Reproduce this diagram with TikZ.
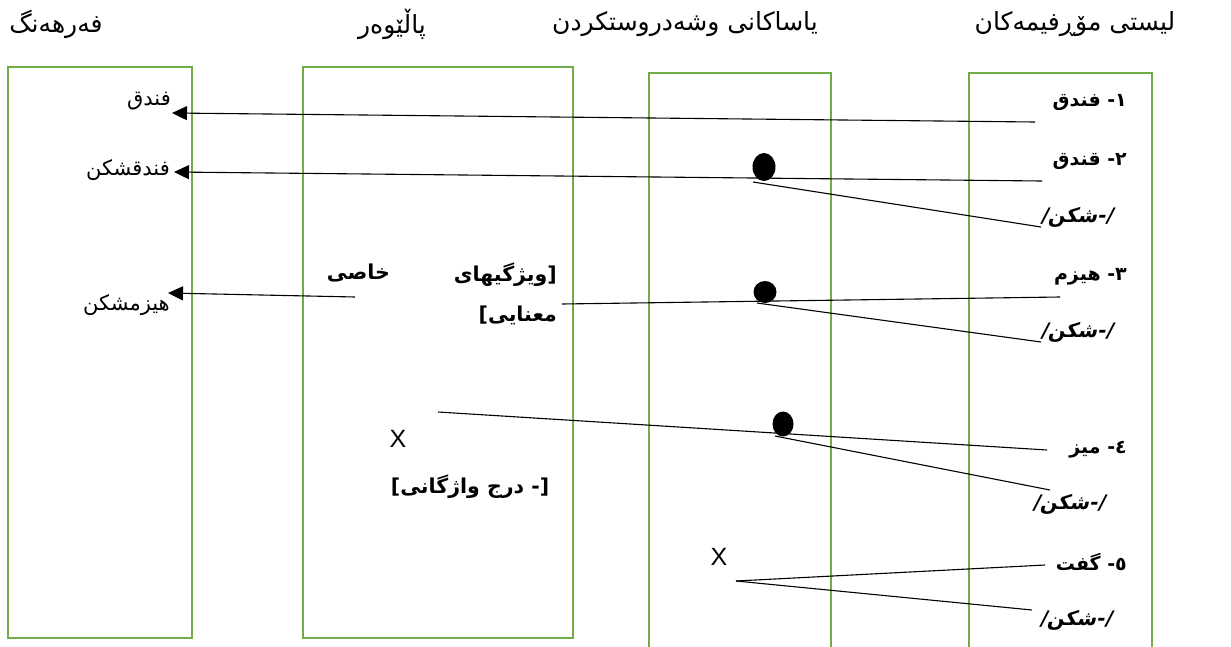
\documentclass[tikz,border=0pt]{standalone}
\usepackage{fontspec}
\setmainfont{Liberation Sans}
\newfontfamily\arabicfont[Script=Arabic]{DejaVu Sans}
\newfontfamily\arabicslfont[Script=Arabic,FakeSlant=0.2]{DejaVu Sans Bold}
\TeXXeTstate=1
\usepackage{xcolor}
\definecolor{colGreen}{RGB}{112, 173, 71}
\usepackage{tikz}
\usetikzlibrary{
    arrows.meta,
    shapes.geometric,
    positioning
}

\begin{document}
\begin{tikzpicture}[
    x=1pt, y=-1pt,
    colBox/.style={
        draw=colGreen, line width=2.4pt
    },
    colTitle/.style={
        font=\arabicfont\fontsize{25}{28}\selectfont, inner sep=0pt
    },
    dictWord/.style={
        font=\arabicfont\fontsize{21}{24}\selectfont, inner sep=0pt, anchor=east
    },
    morphItem/.style={
        font=\arabicfont\bfseries\fontsize{19}{22}\selectfont, inner sep=0pt, anchor=east
    },
    filterItem/.style={
        font=\arabicfont\bfseries\fontsize{20.5}{24}\selectfont, inner sep=0pt, anchor=east
    },
    affixItem/.style={
        font=\arabicslfont\fontsize{20}{23}\selectfont, inner sep=0pt, anchor=east
    },
    ruleDot/.style={
        ellipse, fill=black, inner sep=0pt
    },
    crossMark/.style={
        font=\fontsize{25}{28}\selectfont, inner sep=0pt
    },
    linkLine/.style={
        line width=1.1pt, draw=black
    },
    linkArrow/.style={
        -{Triangle[length=15pt, width=14pt]}, line width=1.1pt, draw=black
    }
]
    \useasboundingbox (0,0) rectangle (1231,646);

    % Columns
    \draw[colBox] (8,67) rectangle (192,638);
    \draw[colBox] (303,67) rectangle (573,638);
    \draw[colBox] (649,660) |- (831,73) -- (831,660);
    \draw[colBox] (969,660) |- (1152,73) -- (1152,660);

    % Titles
    \node[colTitle] (tDict) at (56,24) {\beginR فەرهەنگ\endR};
    \node[colTitle] (tFilter) at (392,24) {\beginR پاڵێوەر\endR};
    \node[colTitle] (tRules) at (685,24) {\beginR یاساکانی وشەدروستکردن\endR};
    \node[colTitle] (tList) at (1075,24) {\beginR لیستی مۆڕفیمەکان\endR};

    % Dictionary
    \node[dictWord] (dFndq) at (171,101) {\beginR فندق\endR};
    \node[dictWord] (dFndqShkn) at (170,170) {\beginR فندقشکن\endR};
    \node[dictWord] (dHezmShkn) at (170,305) {\beginR هیزمشکن\endR};

    % Filter
    \node[filterItem] (fKhasi) at (390,273) {\beginR خاصی\endR};
    \node[filterItem] (fWezhgi) at (557,275) {\beginR ویژگیهای\endR[};
    \node[filterItem] (fManayi) at (557,315) {]\beginR معنایی\endR};
    \node[crossMark] (fCross) at (398,439) {X};
    \node[filterItem, anchor=center] (fLexIns) at (470,487) {]\beginR - درج واژگانی\endR[};

    % Rules
    \node[ruleDot, minimum width=23pt, minimum height=28pt] (dot2) at (764,167) {};
    \node[ruleDot, minimum width=23pt, minimum height=22pt] (dot3) at (765,292) {};
    \node[ruleDot, minimum width=21pt, minimum height=25pt] (dot4) at (783,424) {};
    \node[crossMark] (rCross) at (719,557) {X};

    % Morpheme list
    \node[morphItem] (m1) at (1127,103) {\beginR ١- فندق\endR};
    \node[morphItem] (m2) at (1127,162) {\beginR ٢- قندق\endR};
    \node[affixItem] (a2) at (1113,217) {\beginR /-شکن/\endR};
    \node[morphItem] (m3) at (1127,277) {\beginR ٣- هیزم\endR};
    \node[affixItem] (a3) at (1113,332) {\beginR /-شکن/\endR};
    \node[morphItem] (m4) at (1127,450) {\beginR ٤- میز\endR};
    \node[affixItem] (a4) at (1105,504) {\beginR /-شکن/\endR};
    \node[morphItem] (m5) at (1127,562) {\beginR ٥- گفت\endR};
    \node[affixItem] (a5) at (1112,620) {\beginR /-شکن/\endR};

    % Line ends
    \coordinate (m1End) at (1035,122);
    \coordinate (dFndqTip) at (172,113);
    \coordinate (m2End) at (1042,181);
    \coordinate (dFndqShknTip) at (174,172);
    \coordinate (dot2Foot) at (753,182);
    \coordinate (a2End) at (1041,227);
    \coordinate (m3End) at (1060,297);
    \coordinate (fManayiEnd) at (562,304);
    \coordinate (dot3Foot) at (757,303);
    \coordinate (a3End) at (1041,342);
    \coordinate (fKhasiEnd) at (355,297);
    \coordinate (dHezmShknTip) at (168,293);
    \coordinate (fCrossEnd) at (438,412);
    \coordinate (m4End) at (1047,450);
    \coordinate (dot4Foot) at (775,436);
    \coordinate (a4End) at (1050,490);
    \coordinate (rCrossFoot) at (736,581);
    \coordinate (m5End) at (1045,565);
    \coordinate (a5End) at (1032,610);

    % Links
    \draw[linkArrow] (m1End) -- (dFndqTip);
    \draw[linkArrow] (m2End) -- (dFndqShknTip);
    \draw[linkLine] (dot2Foot) -- (a2End);
    \draw[linkLine] (m3End) -- (fManayiEnd);
    \draw[linkLine] (dot3Foot) -- (a3End);
    \draw[linkArrow] (fKhasiEnd) -- (dHezmShknTip);
    \draw[linkLine] (fCrossEnd) -- (m4End);
    \draw[linkLine] (dot4Foot) -- (a4End);
    \draw[linkLine] (rCrossFoot) -- (m5End);
    \draw[linkLine] (rCrossFoot) -- (a5End);

\end{tikzpicture}
\end{document}
